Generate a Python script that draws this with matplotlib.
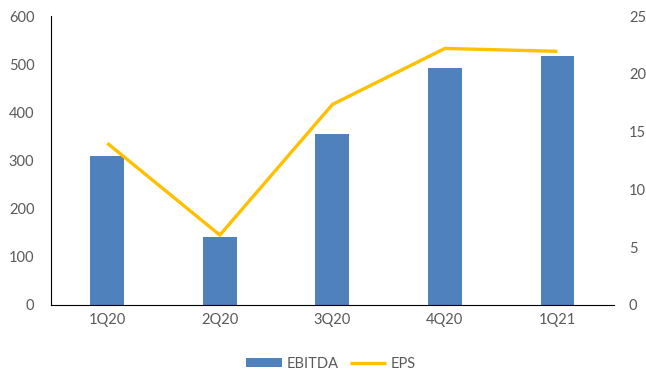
import matplotlib.pyplot as plt
import numpy as np

quarters = ['1Q20', '2Q20', '3Q20', '4Q20', '1Q21']
ebitda = [309, 141, 355, 492, 517]
eps = [14.0, 6.05, 17.35, 22.2, 21.95]

plt.rcParams['font.family'] = ['Lato', 'DejaVu Sans']
grey = '#595959'

fig = plt.figure(figsize=(6.46, 3.74), dpi=100)
ax = fig.add_axes([0.079, 0.1845, 0.871, 0.7725])
x = np.arange(len(quarters))

ax.bar(x, ebitda, width=0.3, color='#4F81BD', label='EBITDA', zorder=2)
ax.set_xlim(-0.5, len(quarters) - 0.5)
ax.set_ylim(0, 600)
ax.set_yticks(range(0, 601, 100))
ax.set_xticks(x)
ax.set_xticklabels(quarters)
ax.tick_params(length=0, labelsize=10.5, colors=grey, pad=6)
ax.tick_params(axis='y', pad=12)
for s in ['top', 'right']:
    ax.spines[s].set_visible(False)
ax.spines['left'].set_color('black')
ax.spines['bottom'].set_color('black')

ax2 = ax.twinx()
ax2.plot(x, eps, color='#FFC000', lw=2.4, label='EPS', solid_capstyle='butt', zorder=3)
ax2.set_ylim(0, 25)
ax2.set_yticks(range(0, 26, 5))
ax2.tick_params(length=0, labelsize=10.5, colors=grey, pad=11)
for s in ['top', 'right', 'left', 'bottom']:
    ax2.spines[s].set_visible(False)

h1, l1 = ax.get_legend_handles_labels()
h2, l2 = ax2.get_legend_handles_labels()
fig.legend(h1 + h2, l1 + l2, loc='center', bbox_to_anchor=(0.512, 0.028), ncol=2,
           frameon=False, fontsize=10.5, labelcolor=grey, handlelength=2.5,
           handleheight=0.6, columnspacing=0.8, handletextpad=0.3)

fig.savefig('out.png', dpi=100)
